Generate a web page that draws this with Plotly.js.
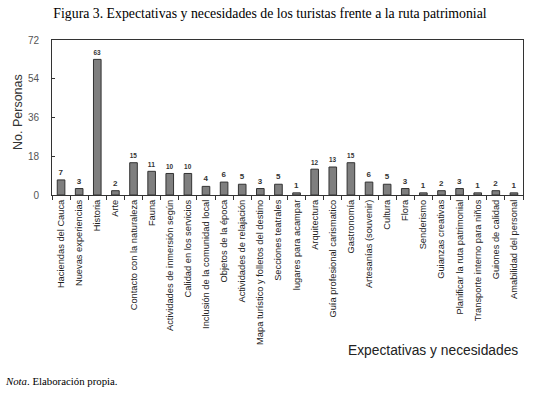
<!DOCTYPE html>
<html><head><meta charset="utf-8">
<script src="https://cdn.plot.ly/plotly-3.0.1.min.js"></script>
<style>body{margin:0;background:#fff}#c{width:533px;height:394px}</style>
</head><body><div id="c"></div>
<script>
const categories = ["Haciendas del Cauca","Nuevas experiencias","Historia","Arte","Contacto con la naturaleza","Fauna","Actividades de inmersión según","Calidad en los servicios","Inclusión de la comunidad local","Objetos de la época","Actividades de relajación","Mapa turístico y folletos del destino","Secciones teatrales","lugares para acampar","Arquitectura","Guía profesional carismatico","Gastronomía","Artesanías (souvenir)","Cultura","Flora","Senderismo","Guianzas creativas","Planificar la ruta patrimonial","Transporte interno para niños","Guiones de calidad","Amabilidad del personal"];
const values = [7,3,63,2,15,11,10,10,4,6,5,3,5,1,12,13,15,6,5,3,1,2,3,1,2,1];
const yTicks = [0,18,36,54,72];

const sans = "'Liberation Sans', Arial, sans-serif";
const narrow = "'Liberation Sans Narrow', 'Liberation Sans', Arial, sans-serif";
const serif = "'Liberation Serif', 'Times New Roman', serif";
const trace = {
  type: 'bar', x: categories, y: values,
  marker: {color: '#7f7f7f', line: {color: '#333', width: 1}},
  text: values.map(String), textposition: 'outside', cliponaxis: false,
  textfont: {family: sans, size: 8, color: '#333', weight: 'bold'},
  hoverinfo: 'none'
};
const layout = {
  width: 533, height: 394,
  margin: {l: 52, r: 10, t: 40, b: 199},
  paper_bgcolor: '#fff', plot_bgcolor: '#fff',
  bargap: 0.58,
  showlegend: false,
  title: {text: 'Figura 3. Expectativas y necesidades de los turistas frente a la ruta patrimonial',
    font: {family: serif, size: 13.8, color: '#000'},
    x: 270/533, xanchor: 'center', y: 1 - 13/394, yanchor: 'middle'},
  xaxis: {
    type: 'category', tickangle: -90,
    tickfont: {family: narrow, size: 9.3, color: '#222'},
    showline: true, linecolor: '#333', linewidth: 1, mirror: true,
    ticks: 'outside', ticklen: 4, tickcolor: '#333', tickson: 'boundaries',
    showgrid: false, automargin: false
  },
  yaxis: {
    range: [0, 72], tickvals: yTicks, ticktext: yTicks.map(String),
    tickfont: {family: sans, size: 10, color: '#555'},
    ticks: 'inside', ticklen: 3, tickcolor: '#333',
    ticklabelstandoff: 10,
    showline: true, linecolor: '#333', linewidth: 1, mirror: true,
    showgrid: false, zeroline: false, automargin: false
  },
  annotations: [
    {text: 'No. Personas', xref: 'paper', yref: 'paper', textangle: -90,
     x: (18 - 52) / 471, xanchor: 'center', y: (195 - 112) / 155, yanchor: 'middle',
     showarrow: false, font: {family: sans, size: 12.5, color: '#333'}},
    {text: 'Expectativas y necesidades', xref: 'paper', yref: 'paper', x: (520 - 52) / 471, xanchor: 'right',
     y: (195 - 350) / 155, yanchor: 'middle',
     showarrow: false, font: {family: sans, size: 13.8, color: '#222'}},
    {text: '<i>Nota</i>. Elaboración propia.', xref: 'paper', yref: 'paper', x: (3 - 52) / 471, xanchor: 'left',
     y: (195 - 381) / 155, yanchor: 'middle',
     showarrow: false, font: {family: serif, size: 10.8, color: '#000'}}
  ]
};
Plotly.newPlot('c', [trace], layout, {staticPlot: true, displayModeBar: false});
</script></body></html>
